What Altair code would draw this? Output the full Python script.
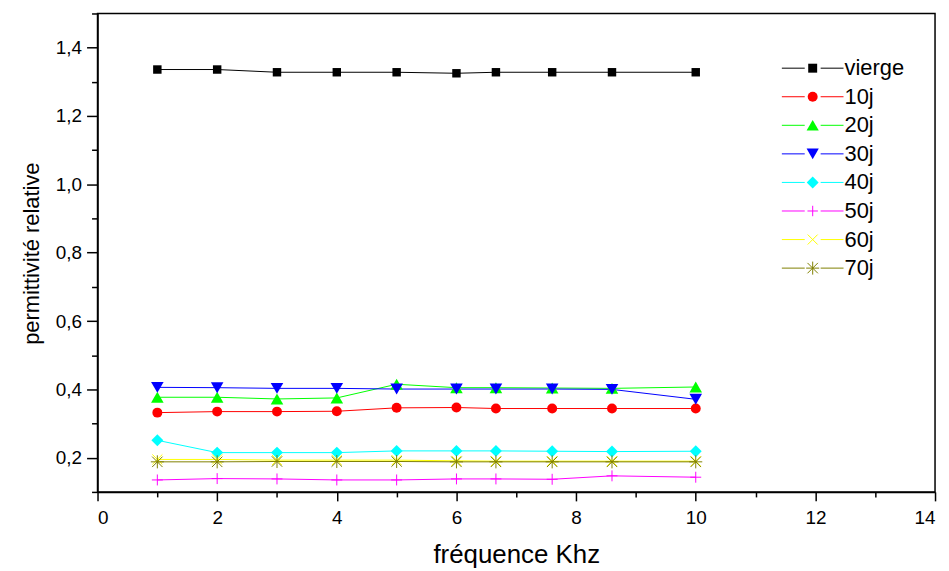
import altair as alt
import pandas as pd

# ---- data ----
freq = [1, 2, 3, 4, 5, 6, 6.66, 7.6, 8.6, 10]
series_names = ["vierge", "10j", "20j", "30j", "40j", "50j", "60j", "70j"]
vierge = [1.336, 1.336, 1.328, 1.328, 1.328, 1.325, 1.328, 1.328, 1.328, 1.328]
j10 = [0.332, 0.335, 0.335, 0.336, 0.346, 0.347, 0.344, 0.344, 0.344, 0.344]
j20 = [0.377, 0.377, 0.372, 0.375, 0.415, 0.405, 0.405, 0.404, 0.403, 0.407]
j30 = [0.406, 0.405, 0.403, 0.403, 0.401, 0.401, 0.401, 0.401, 0.400, 0.371]
j40 = [0.251, 0.215, 0.215, 0.215, 0.220, 0.220, 0.220, 0.219, 0.218, 0.219]
j50 = [0.135, 0.139, 0.138, 0.135, 0.135, 0.138, 0.138, 0.137, 0.147, 0.143]
j60 = [0.195, 0.195, 0.193, 0.193, 0.193, 0.191, 0.190, 0.190, 0.190, 0.190]
j70 = [0.188, 0.188, 0.189, 0.189, 0.189, 0.188, 0.188, 0.188, 0.188, 0.188]
all_values = [vierge, j10, j20, j30, j40, j50, j60, j70]

colors = ["#000000", "#ff0000", "#00ff00", "#0000ff", "#00ffff", "#ff00ff", "#ffff00", "#808000"]
x_ticks = list(range(0, 15))
y_ticks = [0.1, 0.2, 0.3, 0.4, 0.5, 0.6, 0.7, 0.8, 0.9, 1.0, 1.1, 1.2, 1.3, 1.4, 1.5]

# marker glyphs
plot_shapes = [
    "square", "circle", "triangle-up", "triangle-down", "diamond",
    "M-1,0H1M0,-1V1",
    "M-1,-1L1,1M1,-1L-1,1",
    "M-1,-1L1,1M1,-1L-1,1M0,-1.25V1.25M-1.25,0H1.25",
]
plot_filled = [True, True, True, True, True, False, False, False]
plot_sizes = [72, 100, 160, 160, 144, 121, 100, 110]
legend_sizes = [81, 100, 150, 150, 144, 110, 100, 110]

rows = []
for name, vals in zip(series_names, all_values):
    for f, v in zip(freq, vals):
        rows.append({"freq": f, "value": v, "series": name})
df = pd.DataFrame(rows)
legend_df = pd.DataFrame({"series": series_names})

FONT = "Liberation Sans"

x_enc = alt.X(
    "freq:Q",
    scale=alt.Scale(domain=[0, 14], nice=False, zero=False),
    axis=alt.Axis(
        values=x_ticks,
        tickCount=30,
        title="fréquence Khz",
        format="d",
        labelExpr="datum.value % 2 == 0 ? datum.label : ''",
        tickSize={"condition": {"test": "datum.value % 2 == 0", "value": 9}, "value": 5},
        labelPadding=8,
        titleY=71,
        titleBaseline="alphabetic",
        titleFontSize=26,
    ),
)
y_enc = alt.Y(
    "value:Q",
    scale=alt.Scale(domain=[0.1, 1.5], nice=False, zero=False),
    axis=alt.Axis(
        values=y_ticks,
        tickCount=30,
        title="permittivité relative",
        format=".1f",
        labelExpr="round(datum.value * 10) % 2 == 0 ? datum.label : ''",
        tickSize={"condition": {"test": "round(datum.value * 10) % 2 == 0", "value": 11}, "value": 6},
        labelPadding=5,
        titleX=-59,
        titleY=241,
        titleAngle=270,
        titleAlign="center",
        titleBaseline="alphabetic",
        titleFontSize=22,
    ),
)

color_scale = alt.Scale(domain=series_names, range=colors)

lines = alt.Chart(df).mark_line(strokeWidth=1).encode(
    x=x_enc,
    y=y_enc,
    color=alt.Color("series:N", scale=color_scale, legend=None),
)

main_layers = [lines]
for name, col, shp, fil, sz in zip(series_names, colors, plot_shapes, plot_filled, plot_sizes):
    mk = alt.Chart(df).transform_filter(alt.datum.series == name).mark_point(
        shape=shp, filled=fil, size=sz, color=col, opacity=1, strokeWidth=1
    )
    main_layers.append(mk.encode(x="freq:Q", y="value:Q"))
main = alt.layer(*main_layers)

# ---- legend drawn inside the plot, rows placed by a point scale ----
leg_y = alt.Y(
    "series:N",
    scale=alt.Scale(type="point", domain=series_names, range=[55, 256], padding=0),
    axis=None,
)
leg_left = alt.Chart(legend_df).mark_rule(strokeWidth=1).encode(
    y=leg_y, x=alt.value(688), x2=alt.value(711),
    color=alt.Color("series:N", scale=color_scale, legend=None),
)
leg_right = alt.Chart(legend_df).mark_rule(strokeWidth=1).encode(
    y=leg_y, x=alt.value(727), x2=alt.value(750),
    color=alt.Color("series:N", scale=color_scale, legend=None),
)
leg_text = alt.Chart(legend_df).mark_text(
    align="left", baseline="middle", font=FONT, fontSize=22, color="black"
).encode(y=leg_y, x=alt.value(751), text="series:N")

leg_layers = [leg_left, leg_right]
for name, col, shp, fil, sz in zip(series_names, colors, plot_shapes, plot_filled, legend_sizes):
    mk = alt.Chart(legend_df).transform_filter(alt.datum.series == name).mark_point(
        shape=shp, filled=fil, size=sz, color=col, opacity=1, strokeWidth=1
    )
    leg_layers.append(mk.encode(y=leg_y, x=alt.value(719)))
leg_layers.append(leg_text)
legend_chart = alt.layer(*leg_layers)

chart = alt.layer(main, legend_chart).resolve_scale(y="independent").properties(
    width=842,
    height=481,
    autosize=alt.AutoSizeParams(type="none"),
    padding={"left": 90, "top": 4, "right": 6, "bottom": 77},
).configure(
    locale={"number": {"decimal": ",", "thousands": ".", "grouping": [3], "currency": ["", " €"]}}
).configure_view(
    stroke="black", strokeWidth=1.5
).configure_axis(
    grid=False,
    domainColor="black",
    domainWidth=1.5,
    tickColor="black",
    tickWidth=1.5,
    labelFont=FONT,
    labelFontSize=19,
    labelColor="black",
    titleFont=FONT,
    titleFontWeight="normal",
    titleColor="black",
)

chart.save("out.html", embed_options={"renderer": "svg", "actions": False})
